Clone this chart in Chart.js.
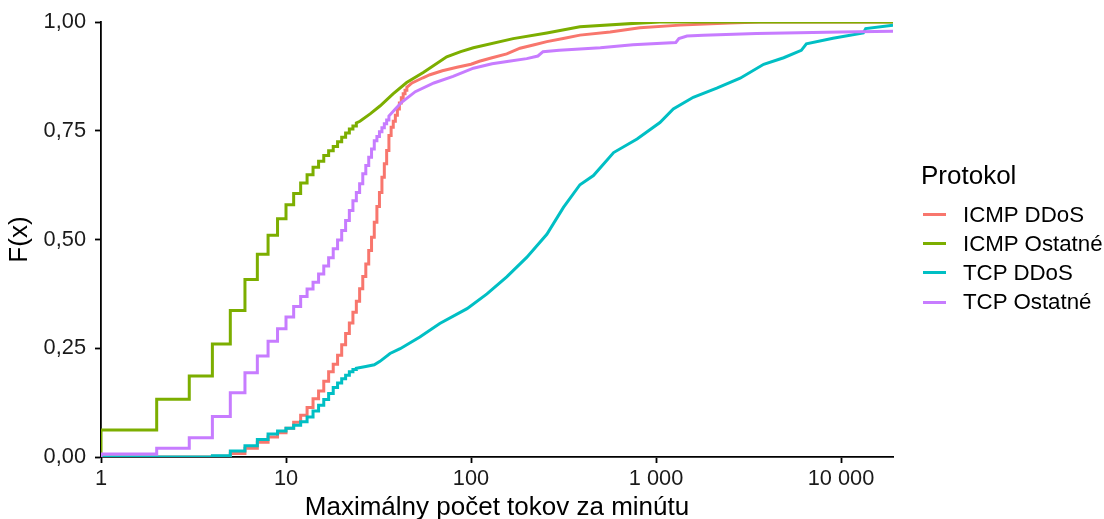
<!doctype html>
<meta charset="utf-8">
<title>Maximálny počet tokov za minútu</title>
<style>
    body {
        margin: 0;
        background: #fff;
        font-family: "Liberation Sans", Arial, sans-serif;
    }
    .wrap {
        position: relative;
        width: 1104px;
        height: 519px;
        overflow: hidden;
    }
    #legend {
        position: absolute;
        left: 921px;
        top: 162px;
        color: #000;
        white-space: nowrap;
    }
    #legend .ttl {
        font-size: 26px;
        line-height: 26px;
        margin-bottom: 12px;
    }
    #legend .item {
        display: flex;
        align-items: center;
        height: 29.2px;
        font-size: 22.3px;
        padding-left: 2px;
    }
    #legend .swatch {
        display: inline-block;
        width: 23px;
        height: 3px;
        margin-right: 17px;
    }
</style>
<body>
    <div class="wrap">
        <canvas id="ecdf"></canvas>
        <div id="legend"><div class="ttl">Protokol</div></div>
    </div>
    <script src="https://cdn.jsdelivr.net/npm/chart.js@4/dist/chart.umd.min.js"></script>
    <script>
        // empirical CDFs: integer jump points first, then the dense upper part
        const icmpDdosStepX = [4, 5, 6, 7, 8, 9, 10, 11, 12, 13, 14, 15, 16, 17, 18, 19, 20, 21, 22, 23, 24, 25, 26, 27, 28, 29, 30, 31, 32, 33, 34, 35, 36, 37, 38, 39, 40, 41, 42, 43, 44, 45];
        const icmpDdosStepF = [0.002, 0.008, 0.020, 0.034, 0.046, 0.056, 0.066, 0.080, 0.096, 0.114, 0.134, 0.152, 0.174, 0.196, 0.213, 0.234, 0.258, 0.284, 0.308, 0.333, 0.358, 0.387, 0.415, 0.444, 0.475, 0.505, 0.540, 0.576, 0.608, 0.643, 0.674, 0.705, 0.739, 0.758, 0.772, 0.786, 0.800, 0.814, 0.826, 0.835, 0.843, 0.850];
        const icmpDdosTailX = [48, 55, 60, 70, 84, 100, 111, 130, 156, 184, 220, 257, 320, 388, 565, 818, 1350, 2500, 3660, 19100];
        const icmpDdosTailF = [0.860, 0.872, 0.879, 0.888, 0.896, 0.903, 0.910, 0.918, 0.927, 0.940, 0.948, 0.955, 0.963, 0.970, 0.977, 0.987, 0.993, 0.998, 1.000, 1.000];

        const icmpOtherStepX = [1, 2, 3, 4, 5, 6, 7, 8, 9, 10, 11, 12, 13, 14, 15, 16, 17, 18, 19, 20, 21, 22, 23, 24];
        const icmpOtherStepF = [0.062, 0.133, 0.186, 0.260, 0.337, 0.408, 0.466, 0.510, 0.548, 0.580, 0.606, 0.630, 0.649, 0.666, 0.680, 0.693, 0.704, 0.714, 0.725, 0.735, 0.745, 0.754, 0.761, 0.768];
        const icmpOtherTailX = [25.1, 28.5, 32.2, 37.9, 44.9, 55.2, 73.9, 88, 103, 169, 257, 388, 751, 1050, 19100];
        const icmpOtherTailF = [0.772, 0.789, 0.807, 0.835, 0.861, 0.884, 0.920, 0.932, 0.941, 0.962, 0.975, 0.989, 0.997, 1.000, 1.000];

        const tcpDdosStepX = [4, 5, 6, 7, 8, 9, 10, 11, 12, 13, 14, 15, 16, 17, 18, 19, 20, 21, 22, 23, 24];
        const tcpDdosStepF = [0.003, 0.014, 0.026, 0.040, 0.053, 0.060, 0.066, 0.073, 0.081, 0.092, 0.106, 0.119, 0.132, 0.146, 0.160, 0.170, 0.180, 0.188, 0.196, 0.201, 0.204];
        const tcpDdosTailX = [27, 30, 32.2, 36.5, 41.4, 52.9, 67.8, 95.2, 122, 156, 200, 257, 316, 388, 459, 590, 790, 1050, 1240, 1590, 2130, 2850, 3820, 4900, 6100, 6500, 9050, 13200, 13600, 19100];
        const tcpDdosTailF = [0.208, 0.212, 0.220, 0.238, 0.249, 0.276, 0.307, 0.341, 0.375, 0.414, 0.459, 0.512, 0.574, 0.626, 0.647, 0.700, 0.731, 0.769, 0.800, 0.827, 0.848, 0.871, 0.903, 0.918, 0.935, 0.950, 0.963, 0.975, 0.985, 0.993];

        const tcpOtherStepX = [1, 2, 3, 4, 5, 6, 7, 8, 9, 10, 11, 12, 13, 14, 15, 16, 17, 18, 19, 20, 21, 22, 23, 24, 25, 26, 27, 28, 29, 30, 31, 32, 33, 34, 35, 36];
        const tcpOtherStepF = [0.007, 0.020, 0.044, 0.093, 0.148, 0.194, 0.232, 0.266, 0.295, 0.322, 0.346, 0.369, 0.386, 0.402, 0.421, 0.439, 0.458, 0.479, 0.499, 0.521, 0.544, 0.567, 0.589, 0.608, 0.628, 0.651, 0.670, 0.689, 0.708, 0.727, 0.737, 0.748, 0.757, 0.766, 0.775, 0.784];
        const tcpOtherTailX = [39, 42, 50, 63, 80, 103, 130, 160, 200, 230, 245, 300, 388, 500, 750, 1280, 1330, 1470, 1800, 3500, 10000, 19100];
        const tcpOtherTailF = [0.800, 0.815, 0.840, 0.860, 0.875, 0.894, 0.904, 0.910, 0.916, 0.922, 0.932, 0.935, 0.938, 0.941, 0.948, 0.953, 0.962, 0.968, 0.970, 0.974, 0.977, 0.979];

        const seriesNames = ["ICMP DDoS", "ICMP Ostatné", "TCP DDoS", "TCP Ostatné"];
        const seriesColors = ["#F8766D", "#7CAE00", "#00BFC4", "#C77CFF"];
        const xTicks = [1, 10, 100, 1000, 10000];
        const yTicks = [0, 0.25, 0.5, 0.75, 1];

        // turn jump points into explicit stair corners, then append the dense part as is
        const ecdf = (stepX, stepF, tailX, tailF) => {
            const pts = [{ x: 1, y: 0 }];
            let prev = 0;
            stepX.forEach((x, i) => {
                pts.push({ x: x, y: prev });
                pts.push({ x: x, y: stepF[i] });
                prev = stepF[i];
            });
            tailX.forEach((x, i) => pts.push({ x: x, y: tailF[i] }));
            return pts;
        };

        const series = [
            ecdf(icmpDdosStepX, icmpDdosStepF, icmpDdosTailX, icmpDdosTailF),
            ecdf(icmpOtherStepX, icmpOtherStepF, icmpOtherTailX, icmpOtherTailF),
            ecdf(tcpDdosStepX, tcpDdosStepF, tcpDdosTailX, tcpDdosTailF),
            ecdf(tcpOtherStepX, tcpOtherStepF, tcpOtherTailX, tcpOtherTailF),
        ];

        const legend = document.querySelector("#legend");
        seriesNames.forEach((name, i) => {
            const row = document.createElement("div");
            row.className = "item";
            const sw = document.createElement("span");
            sw.className = "swatch";
            sw.style.background = seriesColors[i];
            row.appendChild(sw);
            row.appendChild(document.createTextNode(name));
            legend.appendChild(row);
        });

        const spaced = (v) => String(v).replace(/\B(?=(\d{3})+(?!\d))/g, " ");
        const tickFont = { family: "Liberation Sans", size: 21.8 };
        const titleFont = { family: "Liberation Sans", size: 26, lineHeight: 1 };

        const canvas = document.querySelector("#ecdf");
        canvas.width = 1104;
        canvas.height = 519;
        new Chart(canvas.getContext("2d"), {
            type: "line",
            data: {
                datasets: series.map((data, i) => ({
                    label: seriesNames[i],
                    data: data,
                    borderColor: seriesColors[i],
                    borderWidth: 3,
                    pointRadius: 0,
                    tension: 0,
                    fill: false,
                    order: 3 - i,
                })),
            },
            options: {
                responsive: false,
                animation: false,
                events: [],
                layout: { padding: { left: 0, right: 211, top: 21, bottom: 0 } },
                plugins: {
                    legend: { display: false },
                    tooltip: { enabled: false },
                },
                scales: {
                    x: {
                        type: "logarithmic",
                        min: 1,
                        max: 19100,
                        afterBuildTicks: (scale) => {
                            scale.ticks = xTicks.map(v => ({ value: v }));
                        },
                        afterFit: (scale) => { scale.height = 62; },
                        ticks: {
                            autoSkip: false,
                            maxRotation: 0,
                            padding: 3,
                            color: "#1a1a1a",
                            font: tickFont,
                            callback: (v) => spaced(v),
                        },
                        grid: {
                            drawOnChartArea: false,
                            tickLength: 6,
                            tickWidth: 1.8,
                            tickColor: "#000",
                        },
                        border: { display: true, color: "#000", width: 1.8 },
                        title: {
                            display: true,
                            text: "Maximálny počet tokov za minútu",
                            color: "#000",
                            font: titleFont,
                            padding: { top: 0, bottom: -2 },
                        },
                    },
                    y: {
                        type: "linear",
                        min: 0,
                        max: 1,
                        afterBuildTicks: (scale) => {
                            scale.ticks = yTicks.map(v => ({ value: v }));
                        },
                        afterFit: (scale) => { scale.width = 101; },
                        ticks: {
                            padding: 9,
                            color: "#1a1a1a",
                            font: tickFont,
                            callback: (v) => v.toFixed(2).replace(".", ","),
                        },
                        grid: {
                            drawOnChartArea: false,
                            tickLength: 6,
                            tickWidth: 1.8,
                            tickColor: "#000",
                        },
                        border: { display: true, color: "#000", width: 1.8 },
                        title: {
                            display: true,
                            text: "F(x)",
                            color: "#000",
                            font: titleFont,
                            padding: { top: 7, bottom: 0 },
                        },
                    },
                },
            },
        });
    </script>
</body>
